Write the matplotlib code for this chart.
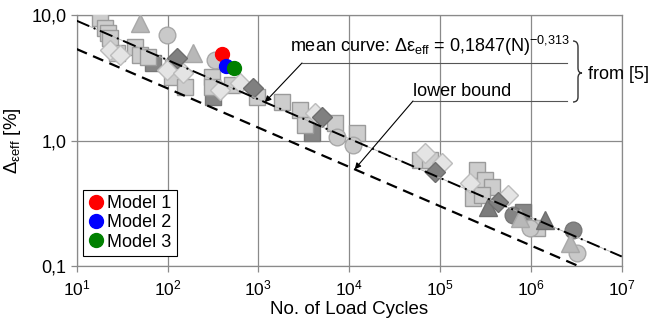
import matplotlib
matplotlib.use("Agg")
import matplotlib.pyplot as plt
from matplotlib.lines import Line2D
from matplotlib.path import Path
from matplotlib.patches import PathPatch

plt.rcParams['font.family'] = ['Liberation Sans', 'DejaVu Sans']
plt.rcParams['mathtext.fontset'] = 'custom'
plt.rcParams['mathtext.rm'] = 'Liberation Sans'
plt.rcParams['mathtext.it'] = 'Liberation Sans:italic'
plt.rcParams['mathtext.bf'] = 'Liberation Sans:bold'

# ---------------- data (N = load cycles, y = strain range in %) ----------------
sq_light_N = [18.0, 20.5, 22.1, 23.3, 27.8, 43.9, 49.8, 61, 115, 112, 156, 309, 309, 513,
              966, 1820, 2870, 3260, 6980, 12200, 60200, 77600, 255000, 313000, 373000,
              231000, 290000, 1170000]
sq_light_y = [9.46, 7.88, 7.19, 6.56, 4.98, 5.56, 4.80, 4.63, 3.85, 3.21, 2.67, 3.21, 2.67, 2.77,
              2.22, 2.03, 1.75, 1.33, 1.38, 1.15, 0.699, 0.699, 0.582, 0.484, 0.426,
              0.348, 0.368, 0.201]
sq_dark_N = [69, 317, 3900, 820000]
sq_dark_y = [4.15, 2.22, 1.15, 0.269]
dia_light_N = [23.3, 30.0, 98.6, 148, 378, 628, 4200, 68400, 104000, 214000, 560000]
dia_light_y = [5.26, 4.80, 3.65, 3.45, 2.53, 2.87, 1.66, 0.795, 0.662, 0.459, 0.368]
dia_dark_N = [127, 873, 5020, 88100, 435000]
dia_dark_y = [4.54, 2.62, 1.54, 0.561, 0.324]
tri_light_N = [49.8, 191, 760000, 2700000]
tri_light_y = [8.64, 4.98, 0.241, 0.1525]
tri_dark_N = [337000, 1430000]
tri_dark_y = [0.295, 0.233]
circ_light_N = [98.6, 333, 7340, 11000, 980000, 3220000]
circ_light_y = [6.93, 4.38, 1.07, 0.921, 0.201, 0.127]
circ_dark_N = [636000, 2910000]
circ_dark_y = [0.255, 0.194]

models = ['Model 1', 'Model 2', 'Model 3']
model_N = [398, 440, 539]
model_y = [4.89, 3.92, 3.78]
model_colors = ['#ff0000', '#0000ff', '#008000']

mean_N = [10, 1e7]
mean_y = [9.00, 0.119]
lower_N = [10, 1e7]
lower_y = [5.35, 0.0709]

xticks = [1e1, 1e2, 1e3, 1e4, 1e5, 1e6, 1e7]
yticks = [0.1, 1.0, 10.0]
yticklabels = ['0,1', '1,0', '10,0']

# ---------------- figure ----------------
W, H = 664, 325
fig = plt.figure(figsize=(W / 100, H / 100), dpi=100)
ax = fig.add_axes([76.7 / W, 1 - 266 / H, 545 / W, 251 / H])

def fx(px):
    return px / W

def fy(py):
    return 1 - py / H

ax.set_xscale('log')
ax.set_yscale('log')
ax.set_xlim(10, 1e7)
ax.set_ylim(0.1, 10)
ax.set_xticks(xticks)
ax.set_yticks(yticks)
ax.set_yticklabels(yticklabels)
ax.minorticks_off()
ax.grid(True, which='major', color='#8a8a8a', lw=0.9)
ax.set_axisbelow(True)
for s in ax.spines.values():
    s.set_color('#8a8a8a')
    s.set_linewidth(0.9)
ax.tick_params(axis='both', colors='#8a8a8a', labelcolor='black', labelsize=13, length=4, width=0.9)
ax.tick_params(axis='x', labelsize=12.5, pad=5)

ax.set_xlabel('No. of Load Cycles', fontsize=13.5, labelpad=2)
ax.set_ylabel(r'Δ$_{\mathrm{εeff}}$ [%]', fontsize=13.5, labelpad=6)

mk = dict(linestyle='none', markeredgewidth=1.0)
ax.plot(sq_light_N, sq_light_y, marker='s', markersize=11.5, markerfacecolor='#cdcdcd',
        markeredgecolor='#9b9b9b', zorder=3, **mk)
ax.plot(dia_light_N, dia_light_y, marker='D', markersize=10, markerfacecolor='#e4e4e4',
        markeredgecolor='#bcbcbc', zorder=3.2, **mk)
ax.plot(tri_light_N, tri_light_y, marker='^', markersize=13, markerfacecolor='#b8b8b8',
        markeredgecolor='#a8a8a8', zorder=3.1, **mk)
ax.plot(circ_light_N, circ_light_y, marker='o', markersize=12, markerfacecolor='#c9c9c9',
        markeredgecolor='#a8a8a8', zorder=3.05, **mk)
ax.plot(sq_dark_N, sq_dark_y, marker='s', markersize=11.5, markerfacecolor='#868686',
        markeredgecolor='#777777', zorder=2.9, **mk)
ax.plot(dia_dark_N, dia_dark_y, marker='D', markersize=10, markerfacecolor='#808080',
        markeredgecolor='#6e6e6e', zorder=3.3, **mk)
ax.plot(tri_dark_N, tri_dark_y, marker='^', markersize=13, markerfacecolor='#7c7c7c',
        markeredgecolor='#6e6e6e', zorder=3.1, **mk)
ax.plot(circ_dark_N, circ_dark_y, marker='o', markersize=12, markerfacecolor='#848484',
        markeredgecolor='#777777', zorder=3.0, **mk)

# curves
ax.plot(mean_N, mean_y, color='#b0b0b0', lw=0.6, zorder=4)
ax.plot(mean_N, mean_y, color='black', lw=1.4, linestyle=(0, (7, 2.5, 1, 2.5)), zorder=4.1)
ax.plot(lower_N, lower_y, color='black', lw=1.6, linestyle=(0, (5, 3)), zorder=4.1)

# model points
handles = []
for name, n, y, c in zip(models, model_N, model_y, model_colors):
    ax.plot([n], [y], marker='o', markersize=10, color=c, linestyle='none', zorder=5)
    handles.append(Line2D([], [], marker='o', markersize=10, color=c, linestyle='none', label=name))

leg = ax.legend(handles=handles, loc='lower left', bbox_to_anchor=(0.0116, 0.04),
                borderaxespad=0, fontsize=13, frameon=True, fancybox=False,
                edgecolor='black', framealpha=1, handlelength=0.8, handletextpad=0.25,
                labelspacing=0.12, borderpad=0.3)
leg.get_frame().set_linewidth(0.8)

# annotations
fig.text(fx(290), fy(52), r'mean curve: Δε$_{\mathrm{eff}}$ = 0,1847(N)$^{\mathrm{-0{,}313}}$',
         fontsize=13, va='baseline', ha='left')
fig.text(fx(413), fy(96), 'lower bound', fontsize=13, va='baseline', ha='left')
fig.text(fx(588), fy(79), 'from [5]', fontsize=13, va='baseline', ha='left')

fig.add_artist(Line2D([fx(302), fx(567)], [fy(63), fy(63)], color='#555555', lw=0.8))
fig.add_artist(Line2D([fx(413), fx(567)], [fy(101), fy(101)], color='#555555', lw=0.8))

ax.annotate('', xy=(1180, 2.02), xycoords='data', xytext=(fx(302), fy(63)),
            textcoords='figure fraction',
            arrowprops=dict(arrowstyle='-|>', color='black', lw=0.8, mutation_scale=9,
                            shrinkA=0, shrinkB=0), zorder=6)
ax.annotate('', xy=(11500, 0.59), xycoords='data', xytext=(fx(413), fy(101)),
            textcoords='figure fraction',
            arrowprops=dict(arrowstyle='-|>', color='black', lw=0.8, mutation_scale=9,
                            shrinkA=0, shrinkB=0), zorder=6)

# brace
verts = [(573, 41), (578, 41), (578, 47), (578, 68), (578, 73), (582, 73),
         (578, 73), (578, 78), (578, 97), (578, 102), (573, 102)]
codes = [Path.MOVETO, Path.CURVE3, Path.CURVE3, Path.LINETO, Path.CURVE3, Path.CURVE3,
         Path.CURVE3, Path.CURVE3, Path.LINETO, Path.CURVE3, Path.CURVE3]
brace = Path([(fx(x), fy(y)) for x, y in verts], codes)
fig.add_artist(PathPatch(brace, transform=fig.transFigure, facecolor='none',
                         edgecolor='#333333', lw=1.0))

fig.savefig('out.png', dpi=100)
